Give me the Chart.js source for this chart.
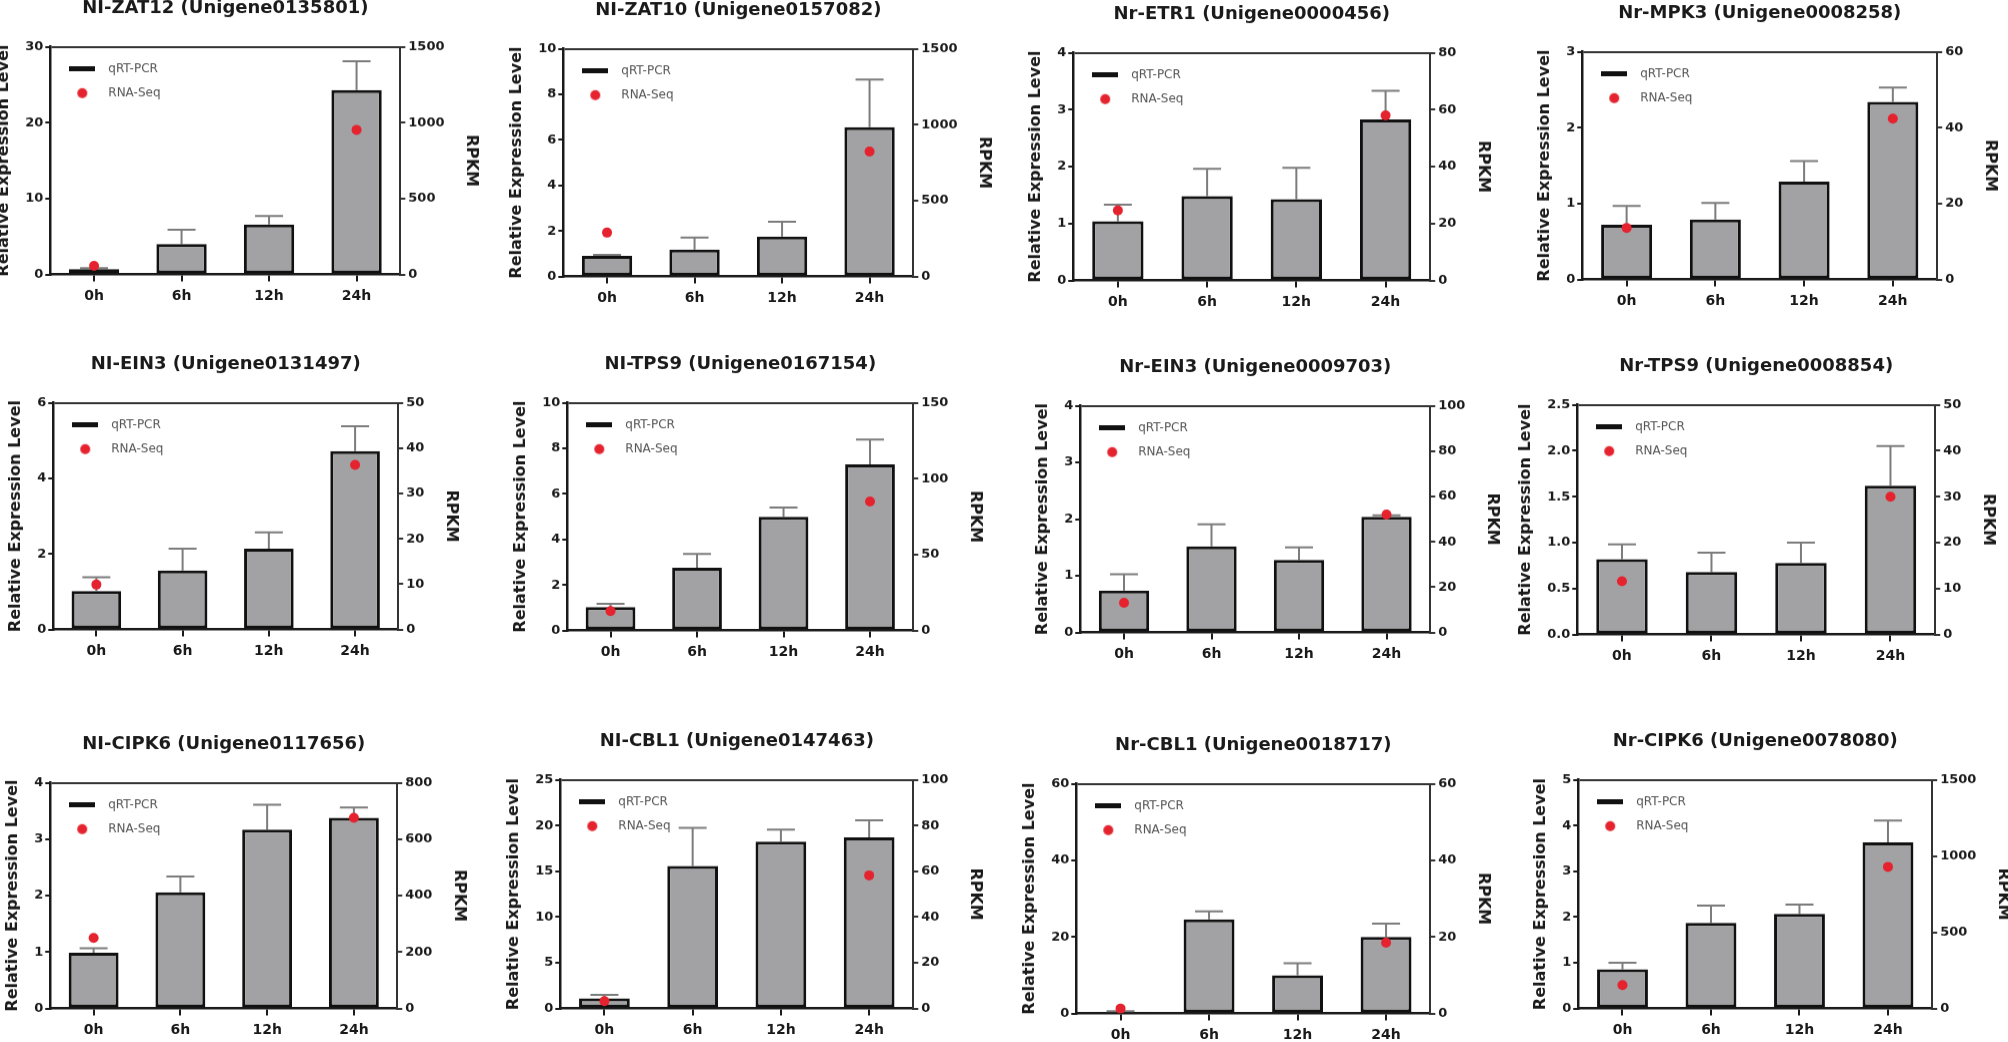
<!DOCTYPE html>
<html>
<head>
<meta charset="utf-8">
<script src="https://cdn.jsdelivr.net/npm/chart.js@4.4.1/dist/chart.umd.min.js"></script>
<style>
  html, body { margin: 0; padding: 0; background: #fff; }
  body { width: 2008px; height: 1042px; overflow: hidden; position: relative; }
  .panel { position: absolute; }
  .panel canvas { display: block; }
</style>
</head>
<body>
<script>
// time points shared by every panel
const timePoints = ['0h', '6h', '12h', '24h'];

const geneTitles = [
  'NI-ZAT12 (Unigene0135801)', 'NI-ZAT10 (Unigene0157082)', 'Nr-ETR1 (Unigene0000456)', 'Nr-MPK3 (Unigene0008258)',
  'NI-EIN3 (Unigene0131497)', 'NI-TPS9 (Unigene0167154)', 'Nr-EIN3 (Unigene0009703)', 'Nr-TPS9 (Unigene0008854)',
  'NI-CIPK6 (Unigene0117656)', 'NI-CBL1 (Unigene0147463)', 'Nr-CBL1 (Unigene0018717)', 'Nr-CIPK6 (Unigene0078080)'
];

// qRT-PCR mean, its SD (upper error bar) and RNA-Seq RPKM (only 0h and 24h shown)
const zat12Qpcr = [0.7, 4.0, 6.6, 24.3];   const zat12Sd = [0.15, 1.9, 1.1, 3.8];    const zat12Rpkm = [57, null, null, 953];
const zat10Qpcr = [0.91, 1.18, 1.76, 6.56]; const zat10Sd = [0.04, 0.53, 0.65, 2.09]; const zat10Rpkm = [289, null, null, 823];
const etr1Qpcr = [1.04, 1.48, 1.43, 2.83];  const etr1Sd = [0.29, 0.48, 0.55, 0.5];   const etr1Rpkm = [24.6, null, null, 58];
const mpk3Qpcr = [0.72, 0.79, 1.29, 2.34];  const mpk3Sd = [0.25, 0.22, 0.27, 0.19];  const mpk3Rpkm = [13.6, null, null, 42.4];
const nlEin3Qpcr = [1.02, 1.56, 2.14, 4.72]; const nlEin3Sd = [0.36, 0.58, 0.43, 0.66]; const nlEin3Rpkm = [9.9, null, null, 36.3];
const nlTps9Qpcr = [1.03, 2.76, 4.99, 7.3];  const nlTps9Sd = [0.14, 0.6, 0.41, 1.09];  const nlTps9Rpkm = [12.8, null, null, 85];
const nrEin3Qpcr = [0.74, 1.52, 1.28, 2.04]; const nrEin3Sd = [0.29, 0.39, 0.22, 0.03]; const nrEin3Rpkm = [13.1, null, null, 52];
const nrTps9Qpcr = [0.82, 0.68, 0.78, 1.62]; const nrTps9Sd = [0.16, 0.21, 0.22, 0.43]; const nrTps9Rpkm = [11.6, null, null, 30];
const nlCipk6Qpcr = [0.99, 2.06, 3.17, 3.38]; const nlCipk6Sd = [0.08, 0.28, 0.44, 0.18]; const nlCipk6Rpkm = [250, null, null, 676];
const nlCbl1Qpcr = [1.1, 15.57, 18.24, 18.71]; const nlCbl1Sd = [0.4, 4.17, 1.31, 1.87]; const nlCbl1Rpkm = [3.2, null, null, 58.2];
const nrCbl1Qpcr = [0.44, 24.6, 10.0, 20.0];  const nrCbl1Sd = [0.16, 2.1, 3.1, 3.5];    const nrCbl1Rpkm = [1.3, null, null, 18.5];
const nrCipk6Qpcr = [0.86, 1.87, 2.07, 3.63]; const nrCipk6Sd = [0.14, 0.38, 0.2, 0.48]; const nrCipk6Rpkm = [154, null, null, 929];

// axis ranges (left = relative expression, right = RPKM)
const leftAxisMax  = [30, 10, 4, 3, 6, 10, 4, 2.5, 4, 25, 60, 5];
const leftAxisStep = [10, 2, 1, 1, 2, 2, 1, 0.5, 1, 5, 20, 1];
const rightAxisMax  = [1500, 1500, 80, 60, 50, 150, 100, 50, 800, 100, 60, 1500];
const rightAxisStep = [500, 500, 20, 20, 10, 50, 20, 10, 200, 20, 20, 500];

const qpcrSets = [zat12Qpcr, zat10Qpcr, etr1Qpcr, mpk3Qpcr, nlEin3Qpcr, nlTps9Qpcr, nrEin3Qpcr, nrTps9Qpcr, nlCipk6Qpcr, nlCbl1Qpcr, nrCbl1Qpcr, nrCipk6Qpcr];
const sdSets = [zat12Sd, zat10Sd, etr1Sd, mpk3Sd, nlEin3Sd, nlTps9Sd, nrEin3Sd, nrTps9Sd, nlCipk6Sd, nlCbl1Sd, nrCbl1Sd, nrCipk6Sd];
const rpkmSets = [zat12Rpkm, zat10Rpkm, etr1Rpkm, mpk3Rpkm, nlEin3Rpkm, nlTps9Rpkm, nrEin3Rpkm, nrTps9Rpkm, nlCipk6Rpkm, nlCbl1Rpkm, nrCbl1Rpkm, nrCipk6Rpkm];

// where each plot area sits on the page: [left, top, width, height]
const plotBoxes = [
  [50, 47, 350, 227], [563, 49, 350, 227], [1073, 53, 357, 227], [1582, 52, 355, 227],
  [53, 403, 345, 226], [567, 403, 346, 227], [1080, 406, 350, 226], [1577, 405, 358, 229],
  [50, 783, 347, 225], [560, 780, 353, 228], [1076, 784, 354, 229], [1578, 780, 354, 228]
];

const INK = '#1a1a1a';
const BAR_FILL = '#a2a2a4';
const DOT_RED = '#e5232f';
const ERR_GREY = '#7c7c7c';

Chart.defaults.font.family = "'DejaVu Sans', sans-serif";
Chart.defaults.color = INK;

function legendLineImg() {
  const c = document.createElement('canvas');
  c.width = 26; c.height = 5;
  const g = c.getContext('2d');
  g.fillStyle = '#111';
  g.fillRect(0, 0, 26, 5);
  return c;
}
function legendDotImg() {
  const c = document.createElement('canvas');
  c.width = 12; c.height = 12;
  const g = c.getContext('2d');
  g.fillStyle = DOT_RED;
  g.beginPath();
  g.arc(6, 6, 5, 0, Math.PI * 2);
  g.fill();
  return c;
}
const LINE_IMG = legendLineImg();
const DOT_IMG = legendDotImg();

// SD bars: grey stem from the bar top up to mean+SD, with a cap
const errorBarPlugin = {
  id: 'errorBars',
  beforeDatasetsDraw(chart) {
    const ctx = chart.ctx;
    chart.data.datasets.forEach((ds, di) => {
      if (!ds.errorSd) return;
      const meta = chart.getDatasetMeta(di);
      const yScale = chart.scales[meta.yAxisID];
      ctx.save();
      ctx.strokeStyle = ERR_GREY;
      ctx.lineWidth = 2;
      meta.data.forEach((bar, i) => {
        const sd = ds.errorSd[i];
        if (sd == null) return;
        const yTop = yScale.getPixelForValue(ds.data[i] + sd);
        ctx.beginPath();
        ctx.moveTo(bar.x, bar.y);
        ctx.lineTo(bar.x, yTop);
        ctx.moveTo(bar.x - 14, yTop);
        ctx.lineTo(bar.x + 14, yTop);
        ctx.stroke();
      });
      ctx.restore();
    });
  }
};

// the 'chartArea' legend keeps top = 0 after layout; pin it to the plot area
const legendInPlot = {
  id: 'legendInPlot',
  afterLayout(chart) {
    const lg = chart.legend;
    if (!lg) return;
    lg.top = chart.chartArea.top;
    lg.bottom = chart.chartArea.bottom;
    lg.left = chart.chartArea.left;
  }
};

function makeConfig(i) {
  const lMax = leftAxisMax[i], lStep = leftAxisStep[i];
  return {
    type: 'bar',
    data: {
      labels: timePoints,
      datasets: [
        {
          type: 'line', label: 'RNA-Seq', data: rpkmSets[i], yAxisID: 'y1', order: 0,
          showLine: false, pointRadius: 5, pointHoverRadius: 5,
          pointBackgroundColor: DOT_RED, pointBorderColor: DOT_RED, pointBorderWidth: 0
        },
        {
          type: 'bar', label: 'qRT-PCR', data: qpcrSets[i], errorSd: sdSets[i], yAxisID: 'y', order: 1,
          backgroundColor: BAR_FILL, borderColor: '#111', borderWidth: 3, borderSkipped: false,
          barPercentage: 0.575, categoryPercentage: 1.0
        }
      ]
    },
    options: {
      responsive: true,
      maintainAspectRatio: false,
      animation: false,
      events: [],
      layout: { padding: 0 },
      plugins: {
        title: {
          display: true, text: geneTitles[i], fullSize: false, color: INK,
          font: { size: 18, weight: 'bold' }, padding: { top: 4, bottom: 27 }
        },
        legend: {
          display: true, position: 'chartArea', align: 'start',
          title: { display: true, text: '', font: { size: 1 }, padding: { top: 0, bottom: 3 } },
          labels: {
            usePointStyle: true, pointStyleWidth: 40, padding: 12,
            font: { size: 12 }, color: '#555',
            generateLabels: () => [
              { text: 'qRT-PCR', pointStyle: LINE_IMG, fillStyle: '#111', strokeStyle: '#111', lineWidth: 0, hidden: false, datasetIndex: 1, fontColor: '#555' },
              { text: 'RNA-Seq', pointStyle: DOT_IMG, fillStyle: DOT_RED, strokeStyle: DOT_RED, lineWidth: 0, hidden: false, datasetIndex: 0, fontColor: '#555' }
            ]
          }
        },
        tooltip: { enabled: false }
      },
      scales: {
        x: {
          grid: { display: true, drawOnChartArea: false, offset: false, tickLength: 7, color: INK, lineWidth: 2 },
          border: { display: true, color: INK, width: 2.5 },
          ticks: { color: INK, font: { size: 14, weight: 'bold' }, padding: 6 }
        },
        y: {
          position: 'left', min: 0, max: lMax,
          ticks: {
            stepSize: lStep, color: INK, padding: 2, font: { size: 13, weight: 'bold' },
            callback: (v) => (lStep < 1 ? Number(v).toFixed(1) : String(v))
          },
          grid: {
            drawOnChartArea: true, tickLength: 5, lineWidth: 2, tickColor: INK,
            color: (c) => (c.tick && c.tick.value === lMax ? '#333' : 'rgba(0,0,0,0)')
          },
          border: { display: true, color: INK, width: 2.5 },
          title: {
            display: true, text: 'Relative Expression Level', color: INK,
            font: { size: 16, weight: 'bold' }, padding: { top: 2, bottom: 10 }
          }
        },
        y1: {
          position: 'right', min: 0, max: rightAxisMax[i],
          ticks: {
            stepSize: rightAxisStep[i], color: INK, padding: 3, font: { size: 13, weight: 'bold' },
            callback: (v) => String(v)
          },
          grid: { drawOnChartArea: false, tickLength: 5, lineWidth: 2, color: '#333' },
          border: { display: true, color: '#333', width: 2 },
          title: {
            display: true, text: 'RPKM', color: INK,
            font: { size: 16, weight: 'bold' }, padding: { top: 2, bottom: 14 }
          }
        }
      }
    },
    plugins: [errorBarPlugin, legendInPlot]
  };
}

geneTitles.forEach((t, i) => {
  const [pl, pt, pw, ph] = plotBoxes[i];
  const holder = document.createElement('div');
  holder.className = 'panel';
  holder.style.left = (pl - 55) + 'px';
  holder.style.top = (pt - 50) + 'px';
  holder.style.width = (pw + 130) + 'px';
  holder.style.height = (ph + 90) + 'px';
  const canvas = document.createElement('canvas');
  holder.appendChild(canvas);
  document.body.appendChild(holder);
  const chart = new Chart(canvas, makeConfig(i));

  // shift/resize the holder so the plot area lands on its measured box
  const a = chart.chartArea;
  const padL = a.left, padT = a.top;
  const padR = chart.width - a.right, padB = chart.height - a.bottom;
  holder.style.left = (pl - padL) + 'px';
  holder.style.top = (pt - padT) + 'px';
  holder.style.width = (pw + padL + padR) + 'px';
  holder.style.height = (ph + padT + padB) + 'px';
  chart.resize();
});
</script>
</body>
</html>
